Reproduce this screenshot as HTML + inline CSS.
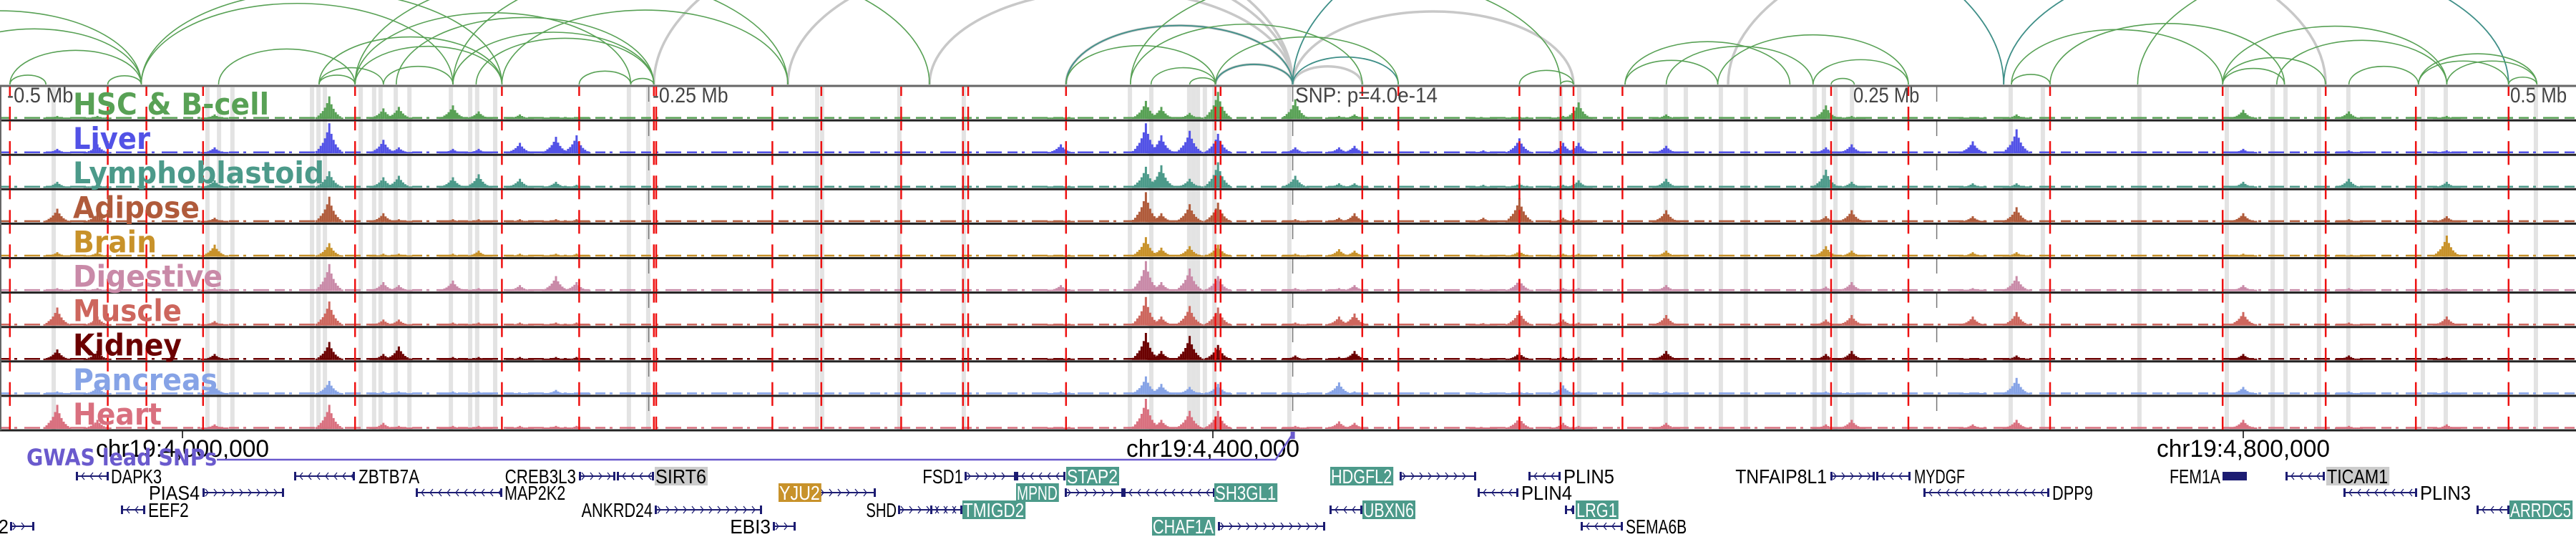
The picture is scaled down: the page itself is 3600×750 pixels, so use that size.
<!DOCTYPE html>
<html><head><meta charset="utf-8"><style>
html,body{margin:0;padding:0;background:#fff;width:3600px;height:750px;overflow:hidden}
svg{display:block}
</style></head><body>
<svg id="chart" width="3600" height="750" viewBox="0 0 3600 750" xmlns="http://www.w3.org/2000/svg">
<g id="arcs"></g>
<g id="shade"></g>
<g id="tracks"></g>
<g id="reds"></g>
<g id="labels"></g>
<g id="bottom"></g>
</svg>
<script>
// ---- data ----
const trackNames = ["HSC & B-cell","Liver","Lymphoblastoid","Adipose","Brain","Digestive","Muscle","Kidney","Pancreas","Heart"];
const trackColors = ["#58a155","#5252e6","#4c9a8a","#b05b3b","#c8922a","#c98aa8","#cd665d","#6b0000","#86a3e6","#d9707f"];
const labelWidths = [274,108,351,177,117,209,152,152,202,124];
// peak positions in kb relative to chr19:4,000,000
const peakKb = [-48.6,-33,12.5,57,78,84,105,115,131,145,153,341,374,380,391,402,432,449,455,505,519,536,542,576,638,648,695,712,800,841,879];
// heights per peak (fraction of track), one row per peak, columns = tracks
const peakH = [
[0.1,0.15,0.2,0.45,0.15,0.1,0.6,0.35,0.1,0.8],
[0.1,0.3,0.1,0.3,0.15,0.1,0.3,0.3,0.25,0.3],
[0.15,0.2,0.25,0.15,0.4,0.1,0.15,0.2,0.3,0.15],
[0.75,1.0,0.55,0.85,0.45,0.9,0.8,0.6,0.45,0.8],
[0.35,0.45,0.35,0.3,0.1,0.3,0.2,0.2,0.1,0.2],
[0.4,0.2,0.4,0.1,0.1,0.2,0.2,0.45,0.1,0.1],
[0.45,0.15,0.35,0.1,0.1,0.35,0.1,0.1,0.1,0.1],
[0.25,0.15,0.45,0.1,0.2,0.1,0.1,0.1,0.1,0.1],
[0.15,0.35,0.3,0.1,0.1,0.2,0.1,0.1,0.05,0.1],
[0.05,0.55,0.2,0.1,0.1,0.5,0.1,0.1,0.15,0.1],
[0.05,0.6,0.1,0.1,0.1,0.3,0.1,0.1,0.05,0.1],
[0.05,0.3,0.05,0.05,0.05,0.2,0.05,0.05,0.1,0.05],
[0.6,1.0,0.7,1.0,0.65,1.0,0.95,0.9,0.6,1.0],
[0.4,0.6,0.75,0.3,0.3,0.3,0.3,0.3,0.35,0.3],
[0.2,0.75,0.3,0.6,0.35,0.75,0.65,0.8,0.25,0.6],
[0.9,0.65,0.85,0.65,0.4,0.5,0.6,0.5,0.35,0.6],
[0.65,0.2,0.4,0.1,0.1,0.1,0.1,0.15,0.05,0.1],
[0.1,0.2,0.15,0.15,0.25,0.1,0.3,0.1,0.4,0.25],
[0.15,0.25,0.15,0.3,0.2,0.2,0.4,0.3,0.1,0.2],
[0.05,0.1,0.1,0.15,0.05,0.05,0.08,0.05,0.05,0.05],
[0.05,0.5,0.15,0.8,0.2,0.4,0.5,0.25,0.1,0.4],
[0.1,0.35,0.1,0.15,0.1,0.1,0.2,0.1,0.3,0.2],
[0.55,0.35,0.25,0.1,0.1,0.1,0.1,0.1,0.1,0.1],
[0.15,0.25,0.3,0.4,0.2,0.2,0.35,0.3,0.1,0.2],
[0.45,0.2,0.6,0.2,0.35,0.15,0.2,0.2,0.1,0.15],
[0.1,0.3,0.2,0.4,0.2,0.3,0.35,0.3,0.05,0.3],
[0.05,0.4,0.15,0.2,0.15,0.1,0.3,0.05,0.05,0.15],
[0.15,0.8,0.15,0.5,0.15,0.5,0.45,0.15,0.55,0.3],
[0.3,0.15,0.2,0.3,0.1,0.2,0.45,0.2,0.25,0.3],
[0.25,0.1,0.3,0.1,0.05,0.1,0.1,0.15,0.1,0.1],
[0.1,0.1,0.2,0.2,0.7,0.1,0.3,0.1,0.1,0.15]];
const snpKb = [-67,-29,-14,8,67,124,154,183,183.9,229,248,279,303,305,343,401,403,458,472,519,535,540,559,640,670,725,792,832,867,903];
const shadeKb = [-50,9.7,14.2,19.4,50.3,52.8,55.3,69.2,74.4,76.9,82.8,88.1,104.2,111.7,114.4,121.4,173.3,180.8,246.4,248.3,278.3,303.3,367.8,376.1,390.8,392.5,394.2,396.9,400.6,429.7,535,542.2,575.8,583.6,597.2,606.9,633.6,637.2,641.7,648.1,709.7,722.2,759.7,793.6,811.4,816.4,829.4,840.8,869.7,878.6,913.6];
const arcsGreen = [[-67,-53],[-67,-16],[-126,-16],[-99,-16],[-29,-16],[-16,105],[-16,124],[14,67],[53,67],[53,78],[53,124],[67,174],[67,235],[78,105],[83,183],[105,183],[114,183],[124,235],[154,174],[174,183],[67,124],[105,290],[343,401],[368,458],[368,535],[376,401],[391,401],[401,472],[519,540],[535,540],[560,596],[560,624],[576,633],[596,670],[633,670],[640,649],[710,725],[710,792],[725,816],[759,957],[792,816],[792,832],[792,879],[813,879],[841,868],[868,914],[879,914],[868,903],[903,914]];
const arcsGrey = [[343,431],[401,431],[431,458],[431,540],[290,431],[235,431],[183,431],[600,832]];
const arcsTeal = [[343,431],[401,431],[431,472],[431,707],[707,903]];
const snpLeadKb = 431;
const axisTicks = [0,400,800];
const axisLabels = ["chr19:4,000,000","chr19:4,400,000","chr19:4,800,000"];

// ---- scales ----
const X0 = 255, PXKB = 3.6;
const x = kb => X0 + kb*PXKB;
const TOP = 120, TH = 48.1;
const NS = "http://www.w3.org/2000/svg";
function mk(tag, attrs, parent){ const e=document.createElementNS(NS,tag); for(const k in attrs) e.setAttribute(k,attrs[k]); parent.appendChild(e); return e; }
const G = id => document.getElementById(id);

// arcs
const baseY = 118;
function arc(p, color, w, name){
  const x1=x(p[0]), x2=x(p[1]); const rx=(x2-x1)/2, ry=0.26*(x2-x1);
  const e = mk('path',{d:`M${x1},${baseY} A${rx},${ry} 0 0 1 ${x2},${baseY}`,fill:'none',stroke:color,'stroke-width':w},G('arcs'));
  
  
}
arcsGrey.forEach(p=>arc(p,'#c8c8c8',3.5,'loop-arc-grey'));
arcsTeal.forEach(p=>arc(p,'#3f8f88',1.8,'loop-arc-teal'));
arcsGreen.forEach(p=>arc(p,'#58a155',1.6,'loop-arc-green'));

// shaded columns
shadeKb.forEach(k=>{
  const e=mk('rect',{x:x(k)-3,y:TOP+2,width:6,height:TH*10-2,fill:'#e3e3e3'},G('shade'));
  
  
});
[-250+431,431,250+431].forEach(k=>{
  const e=mk('line',{x1:x(k),x2:x(k),y1:TOP,y2:TOP+TH*10,stroke:'#777','stroke-width':1.5,'stroke-dasharray':'22 26'},G('shade'));
  
  
});

// tracks
const shape=[0.08,0.15,0.25,0.35,0.5,0.7,1,0.65,0.45,0.3,0.2,0.12,0.06];
trackNames.forEach((n,t)=>{
  const top=TOP+t*TH, bot=top+TH-2;
  const g=mk('g',{},G('tracks'));
  
  
  const bl=mk('line',{x1:0,x2:3600,y1:bot-1.5,y2:bot-1.5,stroke:trackColors[t],'stroke-width':2.5,'stroke-dasharray':'14 6 4 10 22 8'},g);
  
  
  peakKb.forEach((k,i)=>{
    const h=peakH[i][t]*42;
    shape.forEach((f,j)=>{
      const bh=Math.max(2,h*f);
      const r=mk('rect',{x:x(k)+(j-6)*3-1.5,y:bot-bh,width:3,height:bh,fill:trackColors[t]},g);
      
      
    });
  });
  const bd=mk('line',{x1:0,x2:3600,y1:top+TH,y2:top+TH,stroke:'#222','stroke-width':3},g);
  
  
  const lb=mk('text',{x:102,y:top+40,'font-family':'DejaVu Sans, sans-serif','font-weight':'bold','font-size':42,fill:trackColors[t],textLength:labelWidths[t],lengthAdjust:'spacingAndGlyphs'},G('labels'));
  lb.textContent=n;
  
  
});
mk('line',{x1:0,x2:3600,y1:TOP,y2:TOP,stroke:'#666','stroke-width':3},G('tracks'));
mk('line',{x1:1,x2:1,y1:TOP,y2:TOP+TH*10,stroke:'#666','stroke-width':2},G('tracks'));

// red SNP lines
snpKb.forEach(k=>{
  for(let t=0;t<10;t++){
    const top=TOP+t*TH;
    const e=mk('line',{x1:x(k),x2:x(k),y1:top+1,y2:top+TH-1,stroke:'#ee1111','stroke-width':2.5,'stroke-dasharray':'13 15 30'},G('reds'));
    
    
  }
});

// distance labels
const B=G('bottom');
[["-0.5 Mb",10,'start'],["-0.25 Mb",912,'start'],["0.25 Mb",2590,'start'],["0.5 Mb",3508,'start']].forEach(d=>{
  const w=d[0].length*13.2;
  const e=mk('text',{x:d[1],y:143,'font-family':'Liberation Sans, sans-serif','font-size':30,fill:'#444',textLength:w,lengthAdjust:'spacingAndGlyphs'},G('labels'));
  e.textContent=d[0];
  
  
});
const snpT=mk('text',{x:1810,y:143,'font-family':'Liberation Sans, sans-serif','font-size':30,fill:'#444',textLength:199,lengthAdjust:'spacingAndGlyphs'},G('labels'));
snpT.textContent="SNP: p=4.0e-14";



// axis
axisTicks.forEach((k,i)=>{
  mk('line',{x1:x(k),x2:x(k),y1:602,y2:612,stroke:'#000','stroke-width':1.5},B);
  const e=mk('text',{x:x(k)-121,y:638,'font-family':'Liberation Sans, sans-serif','font-size':34,fill:'#000',textLength:242,lengthAdjust:'spacingAndGlyphs'},B);
  e.textContent=axisLabels[i];
  
  
});
// GWAS
const gw=mk('text',{x:37,y:650,'font-family':'DejaVu Sans, sans-serif','font-weight':'bold','font-size':32,fill:'#6a5acd',textLength:266,lengthAdjust:'spacingAndGlyphs'},B);
gw.textContent="GWAS lead SNPs";


const gp=mk('path',{d:`M303,642 L${x(snpLeadKb)-24},642 L${x(snpLeadKb)},606`,fill:'none',stroke:'#6a5acd','stroke-width':2.5},B);


const gs=mk('rect',{x:x(snpLeadKb)-3,y:603,width:6,height:10,fill:'#6a5acd'},B);



// genes: [name, bodyStart, bodyEnd, row, labelX, anchor, bg, dir]
const genes=[
["DAPK3",106,152,0,155,'start',null,-1],["ZBTB7A",411,496,0,501,'start',null,-1],
["CREB3L3",809,860,0,805,'end',null,1],["SIRT6",862,914,0,916,'start','#cccccc',-1],
["FSD1",1348,1420,0,1346,'end',null,1],["STAP2",1420,1489,0,1491,'start','#4c9a8a',-1],
["HDGFL2",1956,2063,0,1860,'start','#4c9a8a',1],["PLIN5",2136,2181,0,2185,'start',null,-1],
["TNFAIP8L1",2558,2620,0,2553,'end',null,1],["MYDGF",2622,2670,0,2675,'start',null,-1],
["FEM1A",3106,3140,0,3103,'end',null,0],["TICAM1",3194,3249,0,3252,'start','#cccccc',-1],
["PIAS4",283,397,1,279,'end',null,1],["MAP2K2",581,702,1,705,'start',null,-1],
["YJU2",1143,1224,1,1089,'start','#c8922a',1],["MPND",1488,1570,1,1421,'start','#4c9a8a',1],
["SH3GL1",1570,1698,1,1698,'start','#4c9a8a',-1],["PLIN4",2065,2122,1,2126,'start',null,-1],
["DPP9",2688,2864,1,2868,'start',null,-1],["PLIN3",3275,3378,1,3382,'start',null,-1],
["EEF2",169,203,2,207,'start',null,-1],["ANKRD24",915,1065,2,912,'end',null,1],
["SHD",1255,1345,2,1253,'end',null,1],["TMIGD2",1300,1345,2,1346,'start','#4c9a8a',-1],
["UBXN6",1858,1904,2,1905,'start','#4c9a8a',-1],["LRG1",2187,2200,2,2203,'start','#4c9a8a',-1],
["ARRDC5",3461,3507,2,3508,'start','#4c9a8a',-1],
["2",14,48,3,12,'end',null,1],["EBI3",1080,1112,3,1077,'end',null,1],
["CHAF1A",1702,1852,3,1611,'start','#4c9a8a',1],["SEMA6B",2209,2268,3,2272,'start',null,-1]];
const rowY=[665,688,712,735];
genes.forEach(g=>{
  const y=rowY[g[3]];
  const grp=mk('g',{},B);
  
  
  mk('line',{x1:g[1],x2:g[2],y1:y,y2:y,stroke:'#1c1c72','stroke-width':2},grp);
  mk('rect',{x:g[1],y:y-6,width:3,height:12,fill:'#1c1c72'},grp);
  mk('rect',{x:g[2]-3,y:y-6,width:3,height:12,fill:'#1c1c72'},grp);
  if(g[7]===0){ mk('rect',{x:g[1],y:y-6,width:g[2]-g[1],height:12,fill:'#1c1c72'},grp); }
  else for(let cx=g[1]+8;cx<g[2]-4;cx+=12){
    mk('path',{d:`M${cx-4*g[7]},${y-5} L${cx},${y} L${cx-4*g[7]},${y+5}`,fill:'none',stroke:'#1c1c72','stroke-width':1.3},grp);
  }
  const w=g[0].length*14.2;
  let lx=g[5]==='end'?g[4]-w:g[4];
  if(g[6]) mk('rect',{x:lx-1,y:y-13,width:w+3,height:26,fill:g[6]},grp);
  const t=mk('text',{x:lx,y:y+10,'font-family':'Liberation Sans, sans-serif','font-size':28,fill:g[6]&&g[6]!=='#cccccc'?'#fff':'#000',textLength:w,lengthAdjust:'spacingAndGlyphs'},grp);
  t.textContent=g[0];
});
</script>
</body></html>
